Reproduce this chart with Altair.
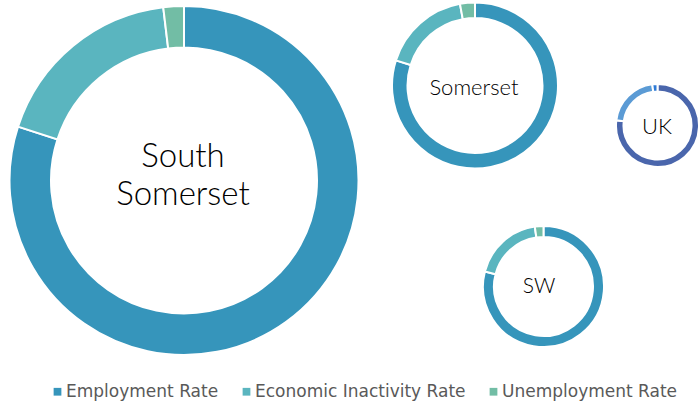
import altair as alt
import pandas as pd

categories = ["Employment Rate", "Economic Inactivity Rate", "Unemployment Rate"]
regions = ["South Somerset", "Somerset", "SW", "UK"]
south_somerset = [80.0, 18.1, 1.9]
somerset = [79.9, 17.2, 2.9]
south_west = [79.0, 18.7, 2.3]
uk = [77.0, 21.0, 2.0]

teal_colors = ["#3695BB", "#5AB5BF", "#72BDA5"]
uk_colors = ["#4A66AC", "#5B9BD5", "#2E7AD6"]


def frame(values):
    return pd.DataFrame({"category": categories, "value": values,
                         "idx": list(range(len(categories)))})


def donut(values, cx, cy, r_out, r_in, colors, show_legend=False):
    if show_legend:
        legend = alt.Legend(
            title=None, orient="none", direction="horizontal",
            legendX=49, legendY=383, symbolType="square", symbolSize=60,
            symbolStrokeWidth=0, labelFont="DejaVu Sans", labelFontSize=17,
            labelColor="#595959", labelOffset=0, labelLimit=400,
            columnPadding=19, padding=0,
        )
    else:
        legend = None
    return alt.Chart(frame(values)).mark_arc(
        radius=r_out, radius2=r_in, stroke="white", strokeWidth=2
    ).encode(
        theta=alt.Theta("value:Q", stack=True),
        order=alt.Order("idx:Q"),
        color=alt.Color("category:N", sort=categories,
                        scale=alt.Scale(domain=categories, range=colors),
                        legend=legend),
        x=alt.value(cx),
        y=alt.value(cy),
    )


def label(name, cx, cy, size):
    return alt.Chart(pd.DataFrame({"region": [name]})).mark_text(
        font="Lato", fontSize=size, fontWeight=300, color="#000000",
        lineBreak=" ", lineHeight=38, align="center", baseline="middle"
    ).encode(text="region:N", x=alt.value(cx), y=alt.value(cy))


layers = [
    donut(south_somerset, 184, 180.5, 174.5, 133, teal_colors, show_legend=True),
    donut(somerset, 475, 85.5, 83, 67.5, teal_colors),
    donut(south_west, 543.5, 286.5, 60.5, 49.5, teal_colors),
    donut(uk, 657.5, 125.5, 41.5, 34, uk_colors),
    label(regions[0], 183, 157, 33),
    label(regions[1], 474, 88, 22),
    label(regions[2], 539, 287, 21),
    label(regions[3], 657, 127, 22),
]

chart = alt.layer(*layers).resolve_scale(
    theta="independent", color="independent"
).properties(
    width=699, height=406, autosize="none", padding=0
).configure_view(strokeWidth=0)

chart.save("out.html", embed_options={"renderer": "svg", "actions": False})
